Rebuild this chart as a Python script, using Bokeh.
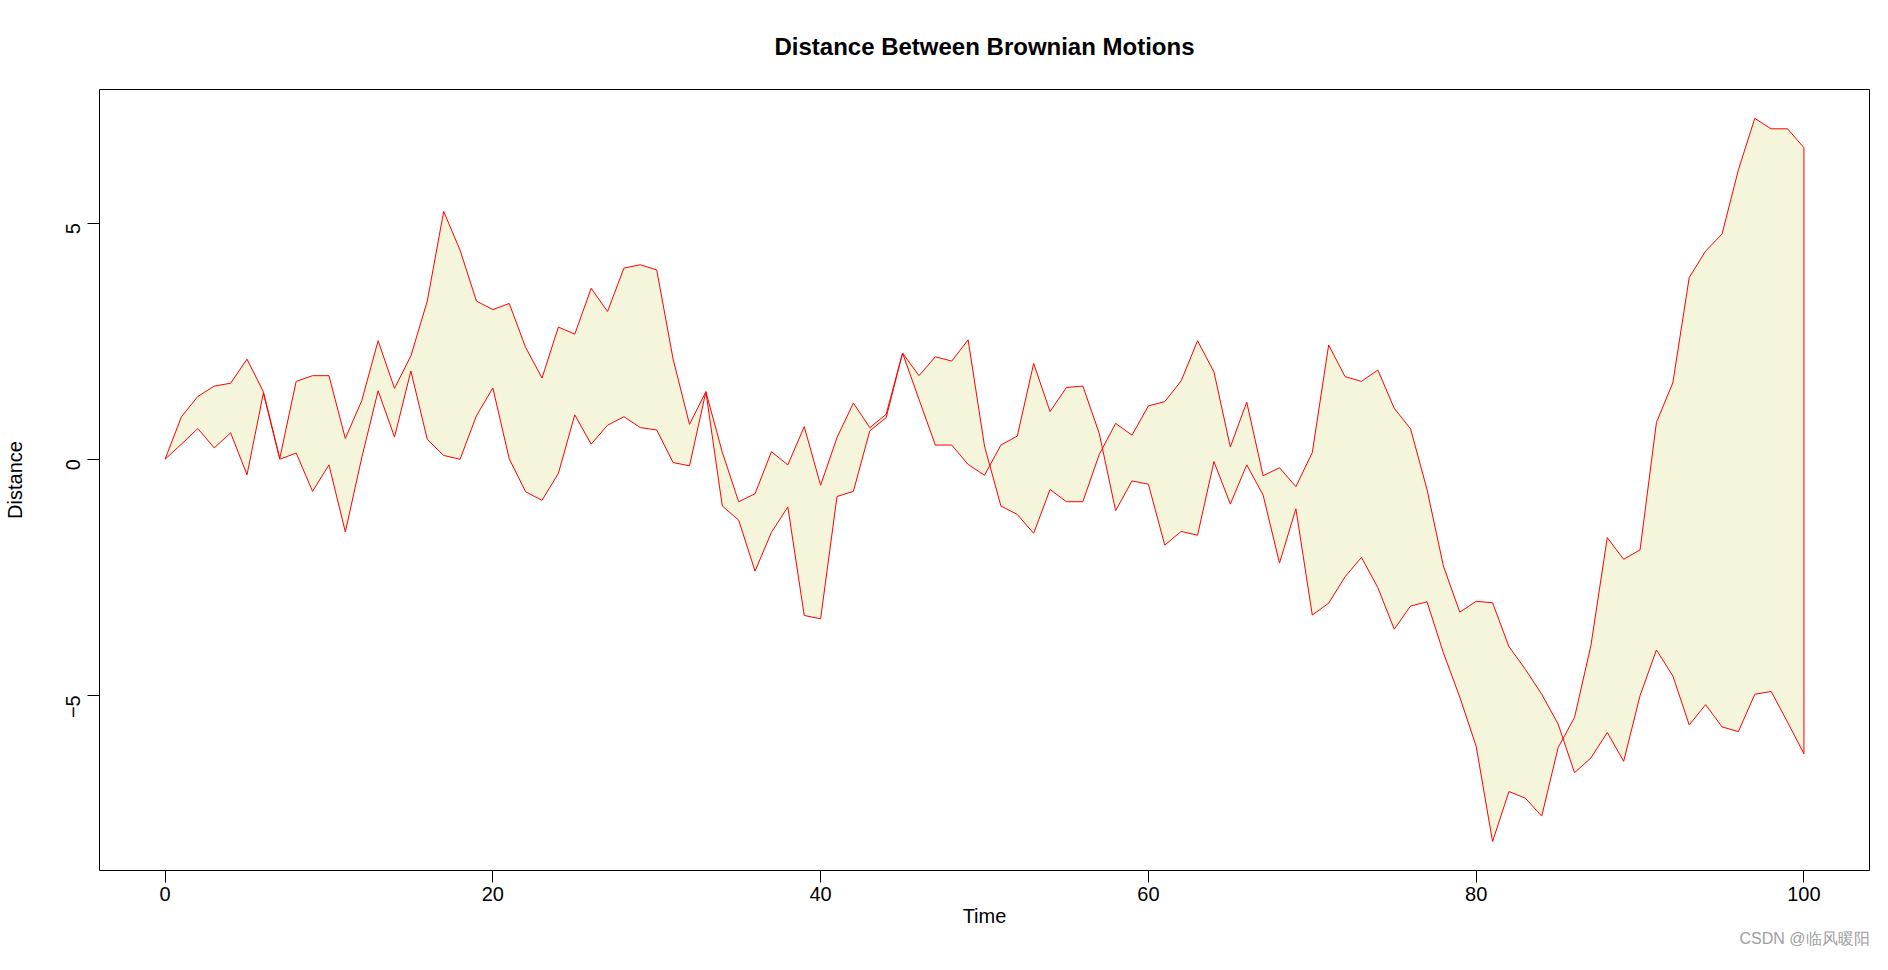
import math
from bokeh.plotting import figure
from bokeh.models import Range1d, FixedTicker, Title
from bokeh.embed import file_html
from bokeh.resources import INLINE

# ---- data ----
time = list(range(0, 101))
series_a = [0.00, 0.90, 1.33, 1.55, 1.61, 2.12, 1.43, 0.02, 1.65, 1.77,
            1.77, 0.44, 1.24, 2.51, 1.50, 2.19, 3.35, 5.25, 4.43, 3.35,
            3.17, 3.30, 2.37, 1.72, 2.80, 2.65, 3.62, 3.13, 4.05, 4.12,
            4.01, 2.12, 0.74, 1.43, 0.15, -0.90, -0.73, 0.16, -0.12, 0.69,
            -0.55, 0.46, 1.19, 0.67, 0.95, 2.25, 1.77, 2.17, 2.08, 2.53,
            0.28, -0.99, -1.17, -1.57, -0.64, -0.90, -0.90, 0.10, 0.76, 0.51,
            1.13, 1.22, 1.66, 2.51, 1.85, 0.26, 1.21, -0.35, -0.18, -0.58,
            0.14, 2.42, 1.75, 1.65, 1.89, 1.08, 0.64, -0.64, -2.26, -3.24,
            -3.01, -3.04, -3.97, -4.45, -4.98, -5.61, -6.64, -6.33, -5.79, -6.40,
            -5.01, -4.04, -4.59, -5.63, -5.20, -5.67, -5.77, -4.98, -4.92, -5.57,
            -6.24]
series_b = [0.00, 0.32, 0.65, 0.24, 0.56, -0.33, 1.40, 0.00, 0.13, -0.68,
            -0.12, -1.54, 0.03, 1.45, 0.47, 1.87, 0.42, 0.08, 0.00, 0.92,
            1.51, 0.01, -0.69, -0.87, -0.30, 0.94, 0.32, 0.72, 0.90, 0.67,
            0.62, -0.07, -0.14, 1.43, -0.99, -1.29, -2.37, -1.55, -1.01, -3.31,
            -3.38, -0.79, -0.68, 0.60, 0.88, 2.25, 1.27, 0.30, 0.30, -0.11,
            -0.34, 0.30, 0.49, 2.03, 1.01, 1.52, 1.55, 0.55, -1.09, -0.46,
            -0.53, -1.82, -1.53, -1.61, -0.05, -0.95, -0.12, -0.76, -2.20, -1.05,
            -3.30, -3.05, -2.49, -2.08, -2.72, -3.60, -3.11, -3.02, -4.10, -5.04,
            -6.08, -8.10, -7.04, -7.18, -7.56, -6.11, -5.47, -3.95, -1.66, -2.12,
            -1.92, 0.78, 1.62, 3.85, 4.41, 4.77, 6.13, 7.22, 7.00, 7.00,
            6.60]
x_ticks = [0, 20, 40, 60, 80, 100]
y_ticks = [-5, 0, 5]
title_text = "Distance Between Brownian Motions"
x_label = "Time"
y_label = "Distance"
watermark = "CSDN @临风暖阳"

# R-style 4% range extension
xmin, xmax = min(time), max(time)
ymin = min(min(series_a), min(series_b))
ymax = max(max(series_a), max(series_b))
xpad = 0.04 * (xmax - xmin)
ypad = 0.04 * (ymax - ymin)
xlo, xhi = xmin - xpad, xmax + xpad
ylo, yhi = ymin - ypad, ymax + ypad

W, H = 1872, 954
BL, BR, BT, BB = 99, 3, 89, 84

p = figure(width=W, height=H, output_backend="svg", toolbar_location=None,
           x_range=Range1d(xlo, xhi), y_range=Range1d(ylo, yhi),
           min_border_left=BL, min_border_right=BR,
           min_border_top=BT, min_border_bottom=BB)

poly_x = time + time[::-1]
poly_y = series_a + series_b[::-1]
p.patch(poly_x, poly_y, fill_color="#F5F5DC", line_color="#FF0000", line_width=1)

FONT = "Liberation Sans"

p.title.text = title_text
p.title.align = "center"
p.title.vertical_align = "middle"
p.title.text_font = FONT
p.title.text_font_size = "24px"
p.title.text_font_style = "bold"
p.title.text_color = "black"
p.title.standoff = 58

p.grid.visible = False
p.outline_line_color = "black"
p.outline_line_width = 1
p.outline_line_alpha = 1.0

for ax in (p.xaxis[0], p.yaxis[0]):
    ax.axis_line_color = None
    ax.major_tick_line_color = "black"
    ax.major_tick_line_width = 1
    ax.major_tick_out = 12
    ax.major_tick_in = 0
    ax.minor_tick_out = 0
    ax.minor_tick_in = 0
    ax.major_label_text_font = FONT
    ax.major_label_text_font_size = "20px"
    ax.major_label_text_color = "black"
    ax.axis_label_text_font = FONT
    ax.axis_label_text_font_size = "20px"
    ax.axis_label_text_font_style = "normal"
    ax.axis_label_text_color = "black"

p.xaxis.ticker = FixedTicker(ticks=x_ticks)
p.yaxis.ticker = FixedTicker(ticks=y_ticks)
p.xaxis.axis_label = x_label
p.yaxis.axis_label = y_label
p.xaxis.major_label_standoff = 4
p.xaxis.axis_label_standoff = 1
p.yaxis.major_label_orientation = math.pi / 2
p.yaxis.major_label_standoff = 14
p.yaxis.axis_label_standoff = 31

# watermark: a small right-aligned title under the x axis
wm = Title(text=watermark, align="right", vertical_align="top", standoff=0,
           text_font=FONT, text_font_size="16px",
           text_font_style="normal", text_color="#A0A0A0")
p.add_layout(wm, "below")

open("out.html", "w").write(file_html(p, INLINE))
